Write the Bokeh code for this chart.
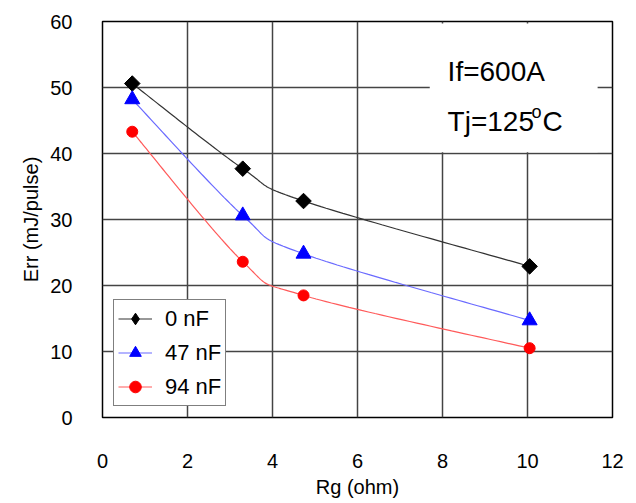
import numpy as np
from bokeh.plotting import figure
from bokeh.models import Range1d, Legend, LegendItem, Label, BoxAnnotation, FixedTicker
from bokeh.embed import file_html
from bokeh.resources import INLINE

rg = [0.7, 3.3, 4.73, 10.05]
err_0nf = [50.6, 37.7, 32.8, 22.9]
err_47nf = [48.2, 30.6, 24.8, 14.7]
err_94nf = [43.3, 23.6, 18.5, 10.5]
series_names = ["0 nF", "47 nF", "94 nF"]
x_ticks = [0, 2, 4, 6, 8, 10, 12]
y_ticks = [0, 10, 20, 30, 40, 50, 60]

FONT = "Liberation Sans"
W, H = 628, 503
ML, MR, MT, MB = 102, 16, 21, 86
XMIN, XMAX, YMIN, YMAX = 0, 12, 0, 60

p = figure(width=W, height=H, output_backend="svg", toolbar_location=None,
           x_range=Range1d(XMIN, XMAX), y_range=Range1d(YMIN, YMAX),
           min_border_left=ML, min_border_right=MR, min_border_top=MT, min_border_bottom=MB)
p.background_fill_color = "white"
p.border_fill_color = "white"
p.outline_line_color = "black"
p.outline_line_width = 1.5

p.xaxis.ticker = FixedTicker(ticks=x_ticks)
p.yaxis.ticker = FixedTicker(ticks=y_ticks)
for ax in (p.xaxis, p.yaxis):
    ax.axis_line_color = None
    ax.major_tick_line_color = None
    ax.minor_tick_line_color = None
    ax.major_tick_in = 0
    ax.major_tick_out = 0
    ax.major_label_text_font = FONT
    ax.major_label_text_font_size = "20px"
    ax.major_label_text_color = "black"
    ax.axis_label_text_font = FONT
    ax.axis_label_text_font_size = "20px"
    ax.axis_label_text_font_style = "normal"
    ax.axis_label_text_color = "black"
p.xaxis.axis_label = "Rg (ohm)"
p.yaxis.axis_label = "Err (mJ/pulse)"
p.xaxis.major_label_standoff = 36
p.yaxis.major_label_standoff = 30
p.xaxis.axis_label_standoff = 5
p.yaxis.axis_label_standoff = 5

p.grid.grid_line_color = "#444444"
p.grid.grid_line_width = 1.5

# white annotation box
box = BoxAnnotation(left=7.7, right=11.65, bottom=40.2, top=59.7,
                    fill_color="white", fill_alpha=1.0, line_color=None, level="underlay")
p.add_layout(box)

# smooth curve (Bezier, Excel-style) computed in pixel space
fw, fh = W - ML - MR, H - MT - MB
sx = fw / (XMAX - XMIN)
sy = fh / (YMAX - YMIN)

def smooth(xs, ys, n=40):
    P = np.column_stack([np.array(xs) * sx, np.array(ys) * sy])
    out = []
    m = len(P)
    for i in range(m - 1):
        p0 = P[i - 1] if i > 0 else P[i]
        p1 = P[i]
        p2 = P[i + 1]
        p3 = P[i + 2] if i + 2 < m else P[i + 1]
        c1 = p1 + (p2 - p0) / 6.0
        c2 = p2 - (p3 - p1) / 6.0
        t = np.linspace(0, 1, n)[:, None]
        seg = ((1 - t) ** 3) * p1 + 3 * ((1 - t) ** 2) * t * c1 + 3 * (1 - t) * t ** 2 * c2 + t ** 3 * p2
        out.append(seg if i == 0 else seg[1:])
    C = np.vstack(out)
    return C[:, 0] / sx, C[:, 1] / sy

items = []
specs = [
    (err_0nf, "#333333", "black", "square", 11, np.pi / 4, "diamond", 14),
    (err_47nf, "#6a6aff", "blue", "triangle", 15, 0.0, None, 0),
    (err_94nf, "#ff5a5a", "red", "circle", 11, 0.0, None, 0),
]
for name, (ys, lc, mc, marker, size, ang, lmarker, lsize) in zip(series_names, specs):
    cx, cy = smooth(rg, ys)
    lr = p.line(cx, cy, line_color=lc, line_width=1.2)
    leg = None
    if lmarker is not None:
        # diamond swatch (for legend) drawn beneath the rotated squares
        leg = p.scatter(rg, ys, marker=lmarker, size=lsize, fill_color=mc, line_color=mc)
    sr = p.scatter(rg, ys, marker=marker, size=size, angle=ang,
                   fill_color=mc, line_color=mc)
    items.append(LegendItem(label=name, renderers=[lr, leg if leg is not None else sr]))

legend = Legend(items=items, location=(11, 11))
legend.label_text_font = FONT
legend.label_text_font_size = "22px"
legend.label_text_color = "black"
legend.border_line_color = "black"
legend.border_line_width = 1.2
legend.background_fill_color = "white"
legend.background_fill_alpha = 1.0
legend.glyph_width = 34
legend.glyph_height = 29
legend.label_height = 29
legend.spacing = 5
legend.padding = 4
legend.margin = 0
legend.label_standoff = 13
p.add_layout(legend, "center")

lab_kw = dict(text_font=FONT, text_color="black", text_baseline="alphabetic")
p.add_layout(Label(x=8.12, y=52.4, text="If=600A", text_font_size="28px", **lab_kw))
p.add_layout(Label(x=8.12, y=44.9, text="Tj=125", text_font_size="28px", **lab_kw))
p.add_layout(Label(x=8.12, y=44.9, x_offset=84, y_offset=9, text="o", text_font_size="18px", **lab_kw))
p.add_layout(Label(x=8.12, y=44.9, x_offset=95, text="C", text_font_size="28px", **lab_kw))

open("out.html", "w").write(file_html(p, INLINE))
